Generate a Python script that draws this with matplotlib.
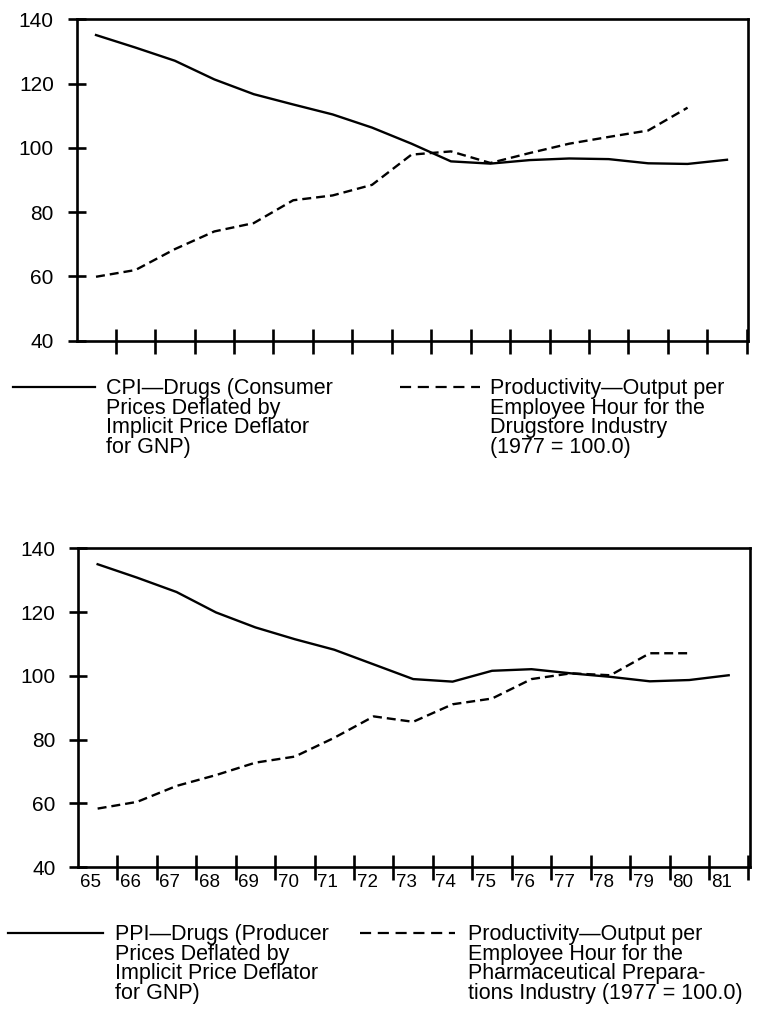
import numpy as np
import matplotlib.pyplot as plt
from matplotlib.lines import Line2D

plt.rcParams["font.family"] = ["Liberation Sans", "DejaVu Sans"]

years = np.arange(65, 82)
year_labels = [str(y) for y in years]

cpi_drugs = [135.1, 131.2, 127.1, 121.3, 116.7, 113.5, 110.4, 106.3, 101.3,
             95.8, 95.1, 96.2, 96.7, 96.5, 95.2, 95.0, 96.3]
prod_drugstore = [59.9, 62.0, 68.5, 74.0, 76.6, 83.7, 85.2, 88.5, 97.9,
                  98.9, 95.3, 98.4, 101.3, 103.4, 105.4, 112.5]

ppi_drugs = [135.0, 130.8, 126.3, 119.9, 115.2, 111.5, 108.2, 103.6, 99.0,
             98.2, 101.6, 102.1, 100.8, 99.7, 98.3, 98.7, 100.2]
prod_pharma = [58.4, 60.5, 65.5, 68.9, 72.8, 74.7, 80.6, 87.3, 85.6,
               91.1, 92.9, 99.0, 100.8, 100.2, 107.1, 107.1]

yticks = [40, 60, 80, 100, 120, 140]

fig = plt.figure(figsize=(7.7, 10.26), dpi=100)
ax1 = fig.add_axes([0.0996, 0.6679, 0.8722, 0.3133])
ax2 = fig.add_axes([0.1017, 0.1547, 0.8723, 0.3109])

dash = (3.8, 2.1)
for ax, solid, dashed in [(ax1, cpi_drugs, prod_drugstore), (ax2, ppi_drugs, prod_pharma)]:
    ax.plot(years[:len(solid)], solid, color="black", lw=1.7)
    ax.plot(years[:len(dashed)], dashed, color="black", lw=1.7, dashes=dash)
    ax.set_xlim(64.51, 81.54)
    ax.set_ylim(40, 140)
    for s in ax.spines.values():
        s.set_linewidth(1.9)
    ax.set_yticks(yticks)
    ax.tick_params(axis="y", direction="inout", length=13, width=1.9,
                   pad=10, labelsize=15)
    ax.set_xticks(years + 0.5, minor=True)
    ax.tick_params(axis="x", which="minor", direction="inout", length=18, width=1.9)

ax1.set_xticks([])
ax2.set_xticks(years - 0.17, year_labels)
ax2.tick_params(axis="x", which="major", length=0, pad=5, labelsize=13.5)

W, H = 770, 1026


def legend_line(x0, x1, y, **kw):
    fig.add_artist(Line2D([x0 / W, x1 / W], [1 - y / H, 1 - y / H],
                          transform=fig.transFigure, color="black", lw=1.6, **kw))


def legend_text(x, y, s):
    fig.text(x / W, 1 - y / H, s, ha="left", va="top", fontsize=15.5,
             linespacing=0.92)


legend_line(13, 95, 387)
legend_text(106, 378, "CPI\u2014Drugs (Consumer\nPrices Deflated by\n"
                      "Implicit Price Deflator\nfor GNP)")
legend_line(400, 480, 387, dashes=(5, 3))
legend_text(490, 378, "Productivity\u2014Output per\nEmployee Hour for the\n"
                      "Drugstore Industry\n(1977 = 100.0)")

legend_line(8, 103, 933)
legend_text(115, 924, "PPI\u2014Drugs (Producer\nPrices Deflated by\n"
                      "Implicit Price Deflator\nfor GNP)")
legend_line(360, 455, 933, dashes=(5, 3))
legend_text(468, 924, "Productivity\u2014Output per\nEmployee Hour for the\n"
                      "Pharmaceutical Prepara-\ntions Industry (1977 = 100.0)")

fig.savefig("out.png", dpi=100)
